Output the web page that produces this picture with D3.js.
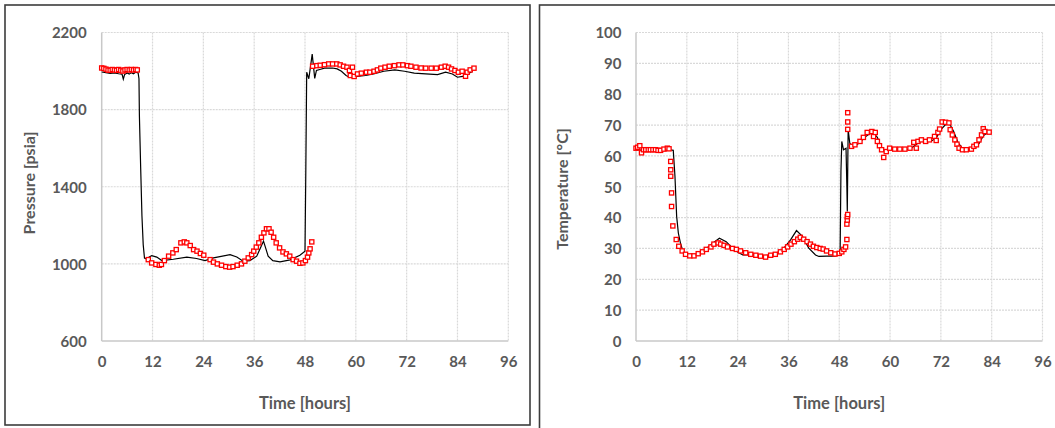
<!DOCTYPE html>
<html><head><meta charset="utf-8">
<script src="https://cdn.jsdelivr.net/npm/d3@7"></script>
<style>
html,body{margin:0;padding:0;background:#fff;}
svg{display:block;}
text{font-family:Lato,"Noto Sans",sans-serif;}
</style></head>
<body>
<svg id="chart" width="1055" height="428"></svg>
<script>
// ---------- DATA ----------
const timeTicks = [0, 12, 24, 36, 48, 60, 72, 84, 96];
const pressureTicks = [600, 1000, 1400, 1800, 2200];
const temperatureTicks = [0, 10, 20, 30, 40, 50, 60, 70, 80, 90, 100];

// Pressure: black line [time h, psia]
const pressureLine = [
 [0,1995],[1,1992],[2,1988],[3,1990],[4,1986],[4.8,1984],[5.1,1958],[5.4,1982],[6,1990],[6.5,1984],
 [7,1992],[7.5,1986],[8,1994],[8.6,1990],[8.8,1960],[8.9,1770],[9.2,1500],[9.5,1250],[9.8,1100],[10.1,1030],
 [10.5,1026],[11.8,1043],[13,1035],[14.2,1017],[16.9,1024],[20.1,1035],[22.4,1028],[24.4,1017],[26.4,1031],
 [30.3,1048],[31.9,1036],[33.4,1014],[35,1017],[36.6,1040],[37.5,1083],[38.2,1118],[38.7,1083],[39.3,1040],
 [40.4,1017],[42.1,1010],[44.5,1021],[46.8,1045],[48,1066],[48.2,1500],[48.4,1994],[48.9,1960],[49.7,2088],
 [50.3,1962],[50.7,2003],[51.5,2008],[52.6,2015],[54.5,2016],[55.6,2011],[56.6,1999],[57.7,1977],[58.5,1968],
 [60.3,1972],[62.3,1977],[64.2,1985],[66.6,1999],[69.2,2006],[71.5,1999],[73.8,1989],[76.5,1985],[79.3,1982],
 [81.2,1994],[82.8,1985],[84,1968],[85.2,1972],[86.4,1985],[87.6,1999]
];
// Pressure: red square markers [time h, psia]
const pressureMarkers = [
 [0,2016],[0.5,2014],[1,2010],[1.5,2005],[2,2004],[2.5,2008],[3,2006],[3.5,2004],[4,2008],[4.5,2004],
 [5,2000],[5.5,2006],[6,2008],[6.5,2006],[7,2008],[7.5,2006],[8,2008],[8.4,2006],
 [11,1022],[11.8,1005],[12.8,997],[13.6,993],[14.1,997],[14.8,1017],[15.8,1040],[16.8,1057],[17.6,1074],
 [18.7,1109],[19.5,1114],[20.1,1109],[20.9,1095],[21.7,1074],[22.5,1066],[23.3,1054],[24.1,1045],[25.6,1022],
 [26.4,1009],[27.3,1000],[28.3,993],[29.3,986],[30.2,983],[31,986],[32,993],[33,1000],[33.8,1014],[34.6,1031],
 [35.4,1048],[35.9,1066],[36.5,1087],[37.1,1109],[37.7,1138],[38.3,1161],[38.9,1182],[39.5,1182],[40,1164],
 [40.6,1138],[41.2,1109],[42,1083],[42.8,1062],[43.6,1052],[44.4,1040],[45.2,1022],[46,1014],[46.8,1003],
 [47.5,1005],[48.1,1017],[48.6,1035],[48.9,1057],[49.2,1078],[49.6,1114],
 [49.8,2025],[50.8,2028],[51.6,2030],[52.6,2033],[53.6,2037],[54.5,2037],[55.5,2037],[56.3,2032],[57.1,2025],
 [57.9,2020],[58.5,2003],[58.7,1977],[59.2,2020],[59.6,1972],[60.4,1985],[61.3,1989],[62.5,1994],[63.3,1994],
 [64.3,1999],[65.1,2006],[65.9,2015],[66.9,2020],[67.9,2025],[69.1,2028],[70.2,2032],[71.1,2032],[72.2,2028],
 [73,2025],[74.2,2020],[75.4,2016],[76.5,2015],[77.8,2015],[79,2015],[80.2,2020],[81.1,2025],[81.9,2020],
 [82.6,2011],[83.4,2003],[84.2,1994],[85.1,1999],[85.9,1973],[86.3,1994],[87,2006],[87.9,2015]
];

// Temperature: black line [time h, degC]
const temperatureLine = [
 [0,62],[2,61.8],[4,62],[6,61.8],[8,62],[8.8,61.8],[9.2,53.4],[9.6,40.4],[10,35],[10.5,31.7],[11.1,29],
 [11.9,27.9],[13.4,27.6],[15.8,29],[18.1,31.7],[19.7,33.3],[21.3,32.2],[23.2,29.5],[25.2,27.9],[27.5,27.9],
 [29.9,27.6],[32.2,27.9],[34.6,29.5],[36.5,32.8],[37.9,35.8],[39.3,33.9],[40.8,30.1],[42.4,27.9],[43.2,27.4],
 [45,27.5],[47,27.5],[48.2,28],[48.4,55],[48.6,64.7],[49,62],[49.6,62.5],[49.8,50],[49.9,42],[50.1,68.5],
 [50.5,64],[51.3,63.1],[52,63.5],[53,64.5],[54,66],[55,67],[56,67.5],[57,66],[58,62.5],[59,61.5],[60,62],
 [62,62],[64,62],[65,62.5],[66,63.5],[67,64.5],[68,65],[70,65],[71,66],[72,68.5],[73,70],[74,70.5],[75,68],
 [76,64.5],[77,62.5],[78,62],[79,62],[80,62.5],[81,64],[82,66.5],[83,67.5],[83.6,67.5]
];
// Temperature: red square markers [time h, degC]
const temperatureMarkers = [
 [0,62.5],[0.4,62.8],[0.9,63.3],[1.3,61],[1.8,62],[2.3,62],[2.9,62],[3.4,62],[4,62],[4.6,62],[5.2,61.8],
 [5.8,61.8],[6.6,62.2],[7.4,62.5],[7.8,62.3],[8.2,58.2],[8.2,55.5],[8.2,53.4],[8.4,48],[8.4,43.6],[8.7,37.3],
 [9.5,32.9],[10.1,30.7],[10.9,29.2],[11.7,28.1],[12.7,27.6],[13.7,27.6],[14.7,28.3],[15.7,28.9],[16.6,29.7],
 [17.7,30.5],[18.4,31.4],[19.4,31.8],[20,31.4],[20.8,31],[21.6,30.5],[22.8,30],[23.7,29.7],[24.7,29.2],
 [25.9,28.6],[27.1,28.1],[28.3,27.8],[29.4,27.5],[30.6,27.2],[31.8,27.8],[32.9,28.1],[34.1,28.9],[35,29.7],
 [35.8,30.5],[36.6,31.4],[37.4,32.2],[38.2,33],[38.8,33.6],[39.6,33],[40.4,32.2],[41.2,31.4],[41.9,30.7],
 [42.7,30.3],[43.5,30],[44.2,29.8],[45,29.2],[46,28.6],[47,28.2],[48,28.4],[48.6,28.9],[49.1,29.7],[49.5,30.5],
 [49.8,32.9],[49.8,37.9],[49.9,39.2],[49.9,40.3],[50,41],[50,68.6],[50,71],[50,74],
 [50.9,63.1],[51.7,63.6],[52.9,64.7],[53.7,66],[54.6,67.6],[55.7,67.9],[56.1,66.3],[56.5,67.6],[57,64.7],
 [57.5,63.3],[58,62],[58.5,59.5],[59.1,61.4],[59.9,62.5],[61.1,62.2],[62.3,62.2],[63.5,62.2],[64.7,62.5],
 [65.6,64.4],[66.2,62.5],[66.6,64.7],[67.4,65.2],[68.4,64.7],[69.3,65.2],[70.5,66.3],[70.9,65],[71.3,67.6],
 [71.7,68.7],[72.3,71],[73.1,70.9],[73.9,70.7],[74.2,68.5],[74.7,66.8],[75.3,65.2],[75.8,63.8],[76.3,62.5],
 [77.1,62],[78,62],[79.2,62.2],[79.8,63.1],[80.4,63.6],[81,65.2],[81.6,66.8],[82,68.8],[82.4,67.9],[83.4,67.7]
];

// ---------- DRAW ----------
const svg = d3.select("#chart");

// panel frames
svg.append("rect").attr("x",5).attr("y",5).attr("width",525).attr("height",420)
  .attr("fill","none").attr("stroke","#3c3c3c").attr("stroke-width",1.6);
svg.append("rect").attr("x",539.5).attr("y",5).attr("width",540).attr("height",440)
  .attr("fill","none").attr("stroke","#3c3c3c").attr("stroke-width",1.6);

function drawChart(cfg) {
  const x = d3.scaleLinear().domain([0, 96]).range([cfg.x0, cfg.x1]);
  const y = d3.scaleLinear().domain(cfg.yDomain).range([cfg.yb, cfg.yt]);
  const g = svg.append("g");

  // gridlines
  g.append("g").selectAll("line").data(cfg.yTicks.slice(1)).join("line")
    .attr("x1", cfg.x0).attr("x2", cfg.x1)
    .attr("y1", d => y(d)).attr("y2", d => y(d))
    .attr("stroke", "#d9d9d9").attr("stroke-width", 1.2).attr("stroke-dasharray", "2,1");
  g.append("g").selectAll("line").data(timeTicks.slice(1)).join("line")
    .attr("x1", d => x(d)).attr("x2", d => x(d))
    .attr("y1", cfg.yt).attr("y2", cfg.yb)
    .attr("stroke", "#d9d9d9").attr("stroke-width", 1.2).attr("stroke-dasharray", "2,1");
  // axis lines
  g.append("line").attr("x1", cfg.x0).attr("x2", cfg.x0).attr("y1", cfg.yt).attr("y2", cfg.yb)
    .attr("stroke", "#c8c8c8").attr("stroke-width", 1.5);
  g.append("line").attr("x1", cfg.x0).attr("x2", cfg.x1).attr("y1", cfg.yb).attr("y2", cfg.yb)
    .attr("stroke", "#c8c8c8").attr("stroke-width", 1.5);

  // axes (labels via d3 axis)
  const xAxis = d3.axisBottom(x).tickValues(timeTicks).tickFormat(d3.format("d")).tickSize(0).tickPadding(0);
  const xa = g.append("g").attr("transform", `translate(0,${cfg.yb + 25.5})`).call(xAxis);
  xa.select(".domain").remove();
  xa.selectAll("text").attr("dy", 0).attr("fill", "#595959")
    .style("font-size", "15px").style("font-weight", "bold").style("font-family", "Lato");

  const yAxis = d3.axisLeft(y).tickValues(cfg.yTicks).tickFormat(d3.format("d")).tickSize(0).tickPadding(0);
  const ya = g.append("g").attr("transform", `translate(${cfg.x0 - cfg.labelGap},0)`).call(yAxis);
  ya.select(".domain").remove();
  ya.selectAll("text").attr("dy", "0.35em").attr("fill", "#595959")
    .style("font-size", "15px").style("font-weight", "bold").style("font-family", "Lato");

  // titles
  g.append("text").attr("x", (cfg.x0 + cfg.x1) / 2).attr("y", 409)
    .attr("text-anchor", "middle").attr("fill", "#595959")
    .style("font-size", "16.5px").style("font-weight", "bold").text("Time [hours]");
  g.append("text")
    .attr("transform", `translate(${cfg.titleX},${cfg.titleY}) rotate(-90)`)
    .attr("text-anchor", "middle").attr("dy", "0.35em").attr("fill", "#595959")
    .style("font-size", "16px").style("font-weight", "bold").text(cfg.title);

  // black line
  const line = d3.line().x(d => x(d[0])).y(d => y(d[1]));
  g.append("path").datum(cfg.line).attr("d", line)
    .attr("fill", "none").attr("stroke", "#000").attr("stroke-width", 1.2);

  // red square markers
  const s = 4.2;
  g.append("g").selectAll("rect").data(cfg.markers).join("rect")
    .attr("x", d => x(d[0]) - s / 2).attr("y", d => y(d[1]) - s / 2)
    .attr("width", s).attr("height", s)
    .attr("fill", "#fff").attr("stroke", "#ff0000").attr("stroke-width", 1.3);
}

drawChart({
  x0: 101.7, x1: 508.3, yt: 32.5, yb: 341,
  yDomain: [600, 2200], yTicks: pressureTicks, labelGap: 15,
  title: "Pressure [psia]", titleX: 29, titleY: 183,
  line: pressureLine, markers: pressureMarkers
});
drawChart({
  x0: 636, x1: 1042.5, yt: 32.5, yb: 341,
  yDomain: [0, 100], yTicks: temperatureTicks, labelGap: 14.5,
  title: "Temperature [°C]", titleX: 562, titleY: 189,
  line: temperatureLine, markers: temperatureMarkers
});
</script>
</body></html>
